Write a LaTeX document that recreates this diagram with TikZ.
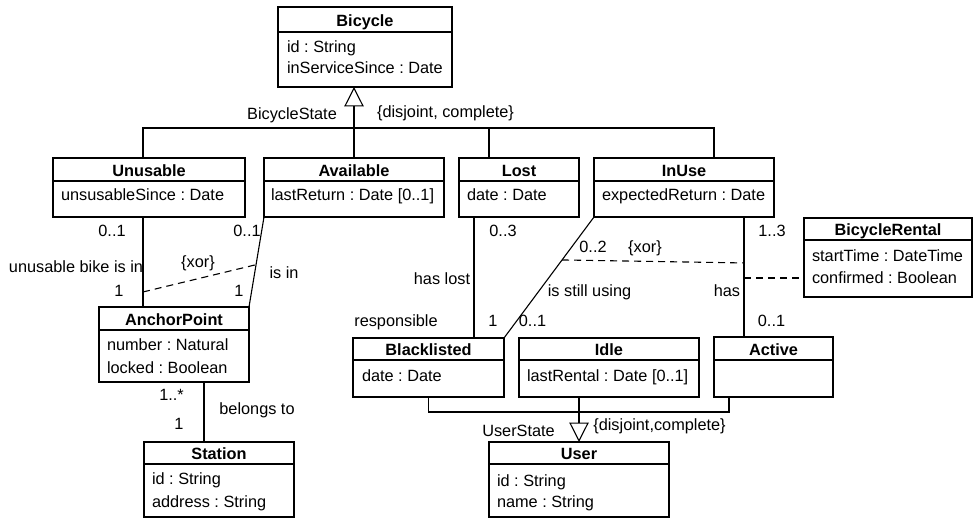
\documentclass[tikz,border=0pt]{standalone}
\usepackage{fontspec}
\setmainfont{Liberation Sans}
\usetikzlibrary{arrows.meta,calc}
\frenchspacing

\tikzset{
  uml/.style={line width=1.1pt, draw=black},
  box/.style={uml, rectangle, inner sep=0pt, outer sep=0pt, fill=white},
  txt/.style={inner sep=0pt, outer sep=0pt, text height=11.7pt, text depth=0pt,
              font=\fontsize{16.3}{19}\selectfont},
  ttl/.style={txt, font=\fontsize{16.3}{19}\selectfont\bfseries},
  attr/.style={txt, anchor=west},
  assoc/.style={uml},
  constraint/.style={uml, dash pattern=on 7pt off 5pt},
  gen/.style={uml, -{Triangle[open, length=19.5pt, width=19.5pt]}},
}

% #1 name, #2 left, #3 top, #4 width, #5 height, #6 header height, #7 title
\newcommand\umlbox[7]{%
  \node[box, minimum width=#4pt, minimum height=#5pt, anchor=north west] (#1) at (#2,#3) {};
  \draw[uml] ([yshift=-#6pt]#1.north west) -- ([yshift=-#6pt]#1.north east);
  \node[ttl] (#1-title) at ([yshift=-#6pt/2-1pt]#1.north) {#7};
}

\begin{document}
\begin{tikzpicture}[x=1pt, y=-1pt]
\useasboundingbox (0,0) rectangle (974,518);

% ---------- classes ----------
\umlbox{bicycle}{278}{7}{174}{80}{25}{Bicycle}
\node[attr] (bicycle-a1) at (287,47) {id : String};
\node[attr] (bicycle-a2) at (287,68) {inServiceSince : Date};

\umlbox{unusable}{53}{158}{192}{59}{23}{Unusable}
\node[attr] (unusable-a1) at (61,195) {unsusableSince : Date};

\umlbox{available}{264}{158}{180}{59}{23}{Available}
\node[attr] (available-a1) at (271,195) {lastReturn : Date [0..1]};

\umlbox{lost}{459}{158}{120}{59}{23}{Lost}
\node[attr] (lost-a1) at (467,195) {date : Date};

\umlbox{inuse}{594}{158}{180}{59}{23}{InUse}
\node[attr] (inuse-a1) at (602,195) {expectedReturn : Date};

\umlbox{rental}{804}{218}{168}{79}{22}{BicycleRental}
\node[attr] (rental-a1) at (812,256) {startTime : DateTime};
\node[attr] (rental-a2) at (812,278) {confirmed : Boolean};

\umlbox{anchor}{99}{307}{150}{75}{23}{AnchorPoint}
\node[attr] (anchor-a1) at (107,345) {number : Natural};
\node[attr] (anchor-a2) at (107,368) {locked : Boolean};

\umlbox{station}{144}{442}{150}{75}{22}{Station}
\node[attr] (station-a1) at (152,479) {id : String};
\node[attr] (station-a2) at (152,502) {address : String};

\umlbox{blacklisted}{353}{338}{151}{59}{22}{Blacklisted}
\node[attr] (blacklisted-a1) at (362,376) {date : Date};

\umlbox{idle}{519}{338}{180}{59}{22}{Idle}
\node[attr] (idle-a1) at (527,376) {lastRental : Date [0..1]};

\umlbox{active}{714}{337}{119}{60}{23}{Active}

\umlbox{user}{489}{442}{180}{75}{22}{User}
\node[attr] (user-a1) at (497,481) {id : String};
\node[attr] (user-a2) at (497,502) {name : String};

% ---------- generalization set BicycleState ----------
\coordinate (bicycle-join) at (354,128);
\coordinate (u-gen) at ([xshift=-6pt]unusable.north);
\coordinate (l-gen) at ([xshift=-30pt]lost.north);
\coordinate (i-gen) at ([xshift=30pt]inuse.north);
\draw[gen] (bicycle-join) -- (bicycle.south -| bicycle-join);
\draw[uml] (u-gen) |- (i-gen |- bicycle-join) -- (i-gen);
\draw[uml] (available.north) -- (bicycle-join);
\draw[uml] (l-gen) -- (l-gen |- bicycle-join);
\node[txt] (lbl-bstate) at (292,114) {BicycleState};
\node[txt] (lbl-bdisj) at (445.5,112) {\{disjoint, complete\}};

% ---------- bicycle / anchor point ----------
\draw[assoc] ([xshift=-6pt]unusable.south) -- coordinate[pos=0.833] (xor1a) ([xshift=-31pt]anchor.north);
\draw[assoc] (available.south west) -- coordinate[pos=0.53] (xor1b) (anchor.north east);
\draw[constraint] (xor1a) -- (xor1b);
\node[txt] (lbl-m1) at (112,231) {0..1};
\node[txt] (lbl-m2) at (247,231) {0..1};
\node[txt] (lbl-ubi) at (76,267) {unusable bike is in};
\node[txt] (lbl-xor1) at (198,262) {\{xor\}};
\node[txt] (lbl-m3) at (119,291) {1};
\node[txt] (lbl-m4) at (239,291) {1};
\node[txt] (lbl-isin) at (284,273) {is in};

% ---------- anchor point / station ----------
\draw[assoc] ([xshift=30pt]anchor.south) -- ([xshift=-15pt]station.north);
\node[txt] (lbl-m5) at (171.5,395) {1..*};
\node[txt] (lbl-m6) at (179,424) {1};
\node[txt] (lbl-belongs) at (257,409) {belongs to};

% ---------- bicycle / user ----------
\draw[assoc] ([xshift=-45pt]lost.south) -- ([xshift=45.5pt]blacklisted.north);
\draw[assoc] (inuse.south west) -- coordinate[pos=0.355] (xor2a) (blacklisted.north east);
\draw[assoc] ([xshift=60pt]inuse.south) -- coordinate[pos=0.383] (xor2b)
  coordinate[pos=0.508] (rent-link) ([xshift=-29.5pt]active.north);
\draw[constraint] (xor2a) -- (xor2b);
\draw[constraint] (rent-link) -- (rent-link -| rental.west);
\node[txt] (lbl-m7) at (503,231) {0..3};
\node[txt] (lbl-haslost) at (442,279) {has lost};
\node[txt] (lbl-resp) at (396,321) {responsible};
\node[txt] (lbl-m8) at (493,321) {1};
\node[txt] (lbl-m9) at (532.5,321) {0..1};
\node[txt] (lbl-m10) at (593,247) {0..2};
\node[txt] (lbl-xor2) at (645,247) {\{xor\}};
\node[txt] (lbl-using) at (589.5,291) {is still using};
\node[txt] (lbl-m11) at (772,231) {1..3};
\node[txt] (lbl-has) at (727,291) {has};
\node[txt] (lbl-m12) at (771.5,321) {0..1};

% ---------- generalization set UserState ----------
\coordinate (user-join) at (579,412);
\coordinate (a-gen) at ([xshift=-44.5pt]active.south);
\draw[gen] ([xshift=-30pt]idle.south) -- (user.north);
\draw[uml] (blacklisted.south) |- (a-gen |- user-join) -- (a-gen);
\node[txt] (lbl-ustate) at (518.5,431) {UserState};
\node[txt] (lbl-udisj) at (659.5,425) {\{disjoint,complete\}};

\end{tikzpicture}
\end{document}
